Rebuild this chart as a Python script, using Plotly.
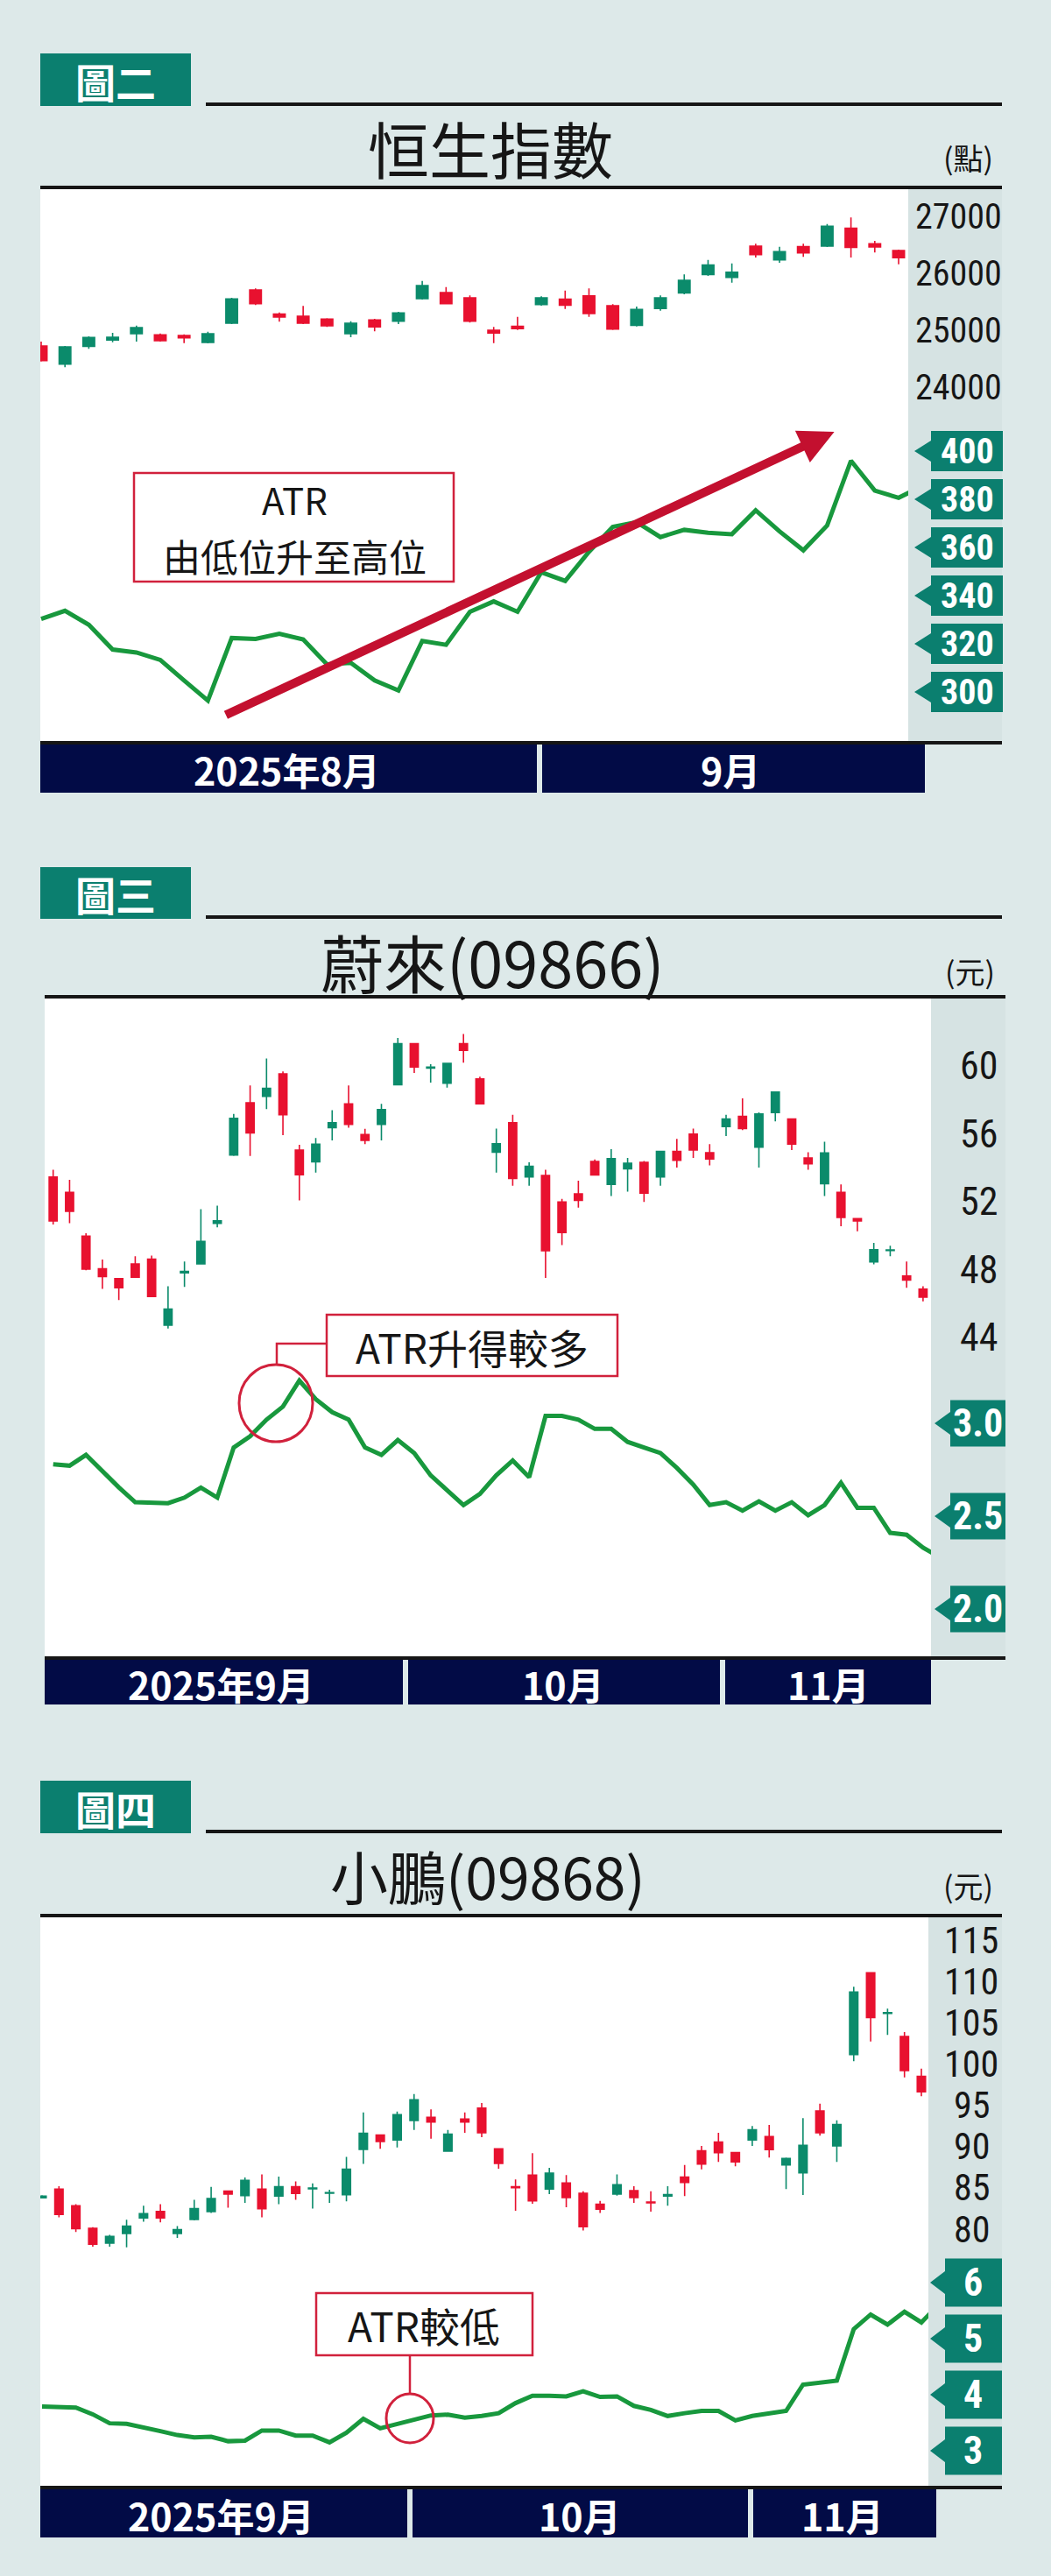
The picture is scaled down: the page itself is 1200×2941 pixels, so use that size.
import plotly.graph_objects as go

W, H = 1200, 2941

# ================= DATA =================
# 圖二 恒生指數 (daily candles, index points) and ATR
hsi_open = [24723, 24405, 24718, 24826, 24938, 24918, 24908, 24785, 25123, 25708, 25282, 25246, 25195,
            24938, 25179, 25159, 25554, 25661, 25569, 25000, 25067, 25451, 25544, 25605, 25431, 25087,
            25380, 25656, 25979, 25928, 26477, 26236, 26467, 26477, 26790, 26518, 26400]
hsi_close = [24467, 24708, 24872, 24877, 25046, 24815, 24867, 24938, 25549, 25467, 25231, 25123, 25077,
             25123, 25057, 25303, 25785, 25467, 25159, 24949, 25026, 25569, 25441, 25292, 25020, 25364,
             25569, 25877, 26144, 26020, 26328, 26379, 26359, 26826, 26456, 26462, 26272]
hsi_high = [24800, 24723, 24892, 24954, 25082, 24944, 24928, 24974, 25569, 25733, 25313, 25426, 25210,
            25159, 25200, 25323, 25867, 25759, 25610, 25057, 25236, 25595, 25697, 25733, 25456, 25415,
            25610, 25979, 26236, 26174, 26518, 26467, 26518, 26867, 26979, 26569, 26415]
hsi_low = [24451, 24349, 24672, 24790, 24800, 24800, 24774, 24769, 25108, 25441, 25149, 25108, 25057,
           24877, 24979, 25108, 25538, 25456, 25133, 24774, 25005, 25431, 25374, 25236, 25005, 25067,
           25344, 25631, 25954, 25836, 26277, 26185, 26287, 26462, 26277, 26364, 26159]
hsi_atr = [330.3, 333.7, 327.9, 317.6, 316.4, 313.3, 304.8, 296.4, 322.4, 322.0, 324.2, 321.8, 311.5,
           312.1, 304.8, 300.6, 321.2, 319.6, 333.3, 337.6, 333.3, 349.7, 346.1, 358.2, 368.5, 370.5,
           364.3, 367.3, 366.1, 365.5, 375.4, 366.7, 358.8, 369.1, 396.0, 383.6, 380.6, 385.5]
hsi_price_ticks = [27000, 26000, 25000, 24000]
hsi_atr_ticks = [400, 380, 360, 340, 320, 300]
hsi_atr_labels = ["400", "380", "360", "340", "320", "300"]
hsi_months = ["2025年8月", "9月"]

# 圖三 蔚來(09866)
nio_open = [53.47, 52.56, 49.98, 48.06, 47.47, 48.34, 48.63, 44.73, 47.82, 48.35, 50.74, 54.77, 57.85,
            58.23, 59.56, 55.06, 54.37, 56.38, 57.79, 55.98, 56.58, 58.92, 61.34, 59.90, 59.01, 61.34,
            59.26, 54.94, 56.67, 53.47, 53.56, 52.00, 52.47, 54.39, 53.04, 53.96, 54.34, 53.47, 54.98,
            56.01, 54.91, 56.45, 57.05, 55.24, 57.28, 56.90, 54.60, 53.07, 52.56, 51.02, 48.46, 49.13,
            47.63, 46.85]
nio_close = [50.88, 51.45, 48.03, 47.59, 46.94, 47.56, 46.42, 45.68, 47.90, 49.67, 50.88, 56.93, 56.07,
             58.71, 57.15, 53.61, 55.41, 56.67, 56.58, 55.63, 57.45, 61.34, 59.96, 59.96, 60.18, 60.94,
             57.79, 55.43, 53.39, 54.11, 49.12, 50.19, 52.09, 53.59, 54.56, 54.28, 52.52, 54.98, 54.46,
             55.06, 54.54, 56.90, 56.33, 57.19, 58.49, 55.41, 54.25, 54.89, 51.09, 50.88, 49.18, 49.17,
             47.39, 46.38]
nio_high = [53.90, 53.30, 50.15, 48.60, 47.47, 48.80, 48.84, 47.03, 48.49, 51.57, 51.78, 57.19, 58.87,
            60.47, 59.70, 55.37, 55.77, 57.41, 58.87, 56.32, 57.79, 61.68, 61.34, 60.13, 60.18, 61.91,
            59.39, 56.33, 57.14, 54.34, 53.90, 52.18, 53.26, 54.51, 55.11, 54.60, 54.42, 54.98, 55.72,
            56.33, 55.41, 57.14, 58.11, 57.28, 58.52, 56.90, 54.94, 55.55, 53.04, 51.02, 49.58, 49.41,
            48.49, 47.03]
nio_low = [50.67, 50.74, 47.97, 46.87, 46.21, 47.51, 46.38, 44.53, 46.99, 48.32, 50.50, 54.72, 54.72,
           57.48, 55.94, 52.09, 53.73, 55.63, 56.38, 55.41, 55.63, 58.92, 59.61, 59.04, 58.75, 60.22,
           57.79, 53.73, 52.95, 52.95, 47.51, 49.46, 51.66, 53.56, 52.35, 52.61, 52.00, 52.95, 54.03,
           54.60, 54.16, 55.89, 56.24, 54.03, 56.76, 55.06, 53.90, 52.35, 50.57, 50.27, 48.32, 48.80,
           46.94, 46.13]
nio_atr = [2.78, 2.772, 2.83, 2.74, 2.655, 2.575, 2.57, 2.57, 2.60, 2.654, 2.60, 2.87, 2.93, 3.02, 3.09,
           3.23, 3.13, 3.06, 3.02, 2.87, 2.83, 2.91, 2.84, 2.72, 2.64, 2.56, 2.62, 2.72, 2.80, 2.71,
           3.04, 3.04, 3.02, 2.97, 2.97, 2.90, 2.87, 2.84, 2.76, 2.67, 2.56, 2.575, 2.53, 2.58, 2.53,
           2.575, 2.505, 2.56, 2.68, 2.545, 2.545, 2.41, 2.40, 2.33, 2.28]
nio_price_ticks = [60, 56, 52, 48, 44]
nio_atr_ticks = [3.0, 2.5, 2.0]
nio_atr_labels = ["3.0", "2.5", "2.0"]
nio_months = ["2025年9月", "10月", "11月"]

# 圖四 小鵬(09868)
xp_open = [83.8, 84.85, 82.83, 80.11, 78.31, 79.47, 81.35, 82.13, 79.47, 81.17, 82.13, 84.60, 84.07,
           84.85, 84.00, 85.13, 84.88, 84.35, 84.18, 89.66, 91.39, 90.79, 93.15, 93.54, 89.44, 93.33,
           94.67, 89.72, 85.13, 86.54, 84.85, 85.59, 84.35, 83.01, 84.25, 84.67, 83.29, 84.00, 86.30,
           89.48, 90.54, 89.27, 90.79, 91.21, 87.78, 86.83, 94.32, 90.08, 101.14, 111.04, 106.11,
           103.33, 98.49]
xp_close = [84.0, 81.77, 80.07, 78.17, 79.12, 80.36, 81.88, 81.35, 79.93, 82.48, 83.72, 84.25, 85.91,
            82.48, 85.13, 84.32, 84.99, 84.42, 87.25, 91.60, 90.61, 93.86, 95.66, 92.98, 91.49, 92.98,
            91.67, 87.96, 85.02, 83.43, 86.79, 83.82, 80.29, 82.41, 85.38, 83.82, 83.19, 84.18, 85.66,
            87.89, 89.27, 88.14, 92.02, 89.62, 88.56, 90.15, 91.67, 92.66, 108.71, 105.63, 106.22,
            99.20, 96.62]
xp_high = [84.1, 85.20, 83.01, 80.25, 79.30, 81.14, 82.83, 83.01, 80.36, 83.54, 85.13, 84.60, 86.26,
           86.62, 86.37, 85.77, 85.55, 84.78, 88.74, 94.14, 91.49, 94.25, 96.37, 94.50, 92.02, 94.14,
           95.27, 89.72, 86.01, 89.19, 87.43, 86.54, 84.60, 83.43, 86.62, 85.20, 84.60, 85.20, 87.78,
           90.08, 91.67, 89.27, 92.48, 92.62, 88.67, 93.44, 95.20, 93.19, 109.34, 111.04, 106.69,
           103.86, 99.44]
xp_low = [83.7, 81.42, 79.65, 77.88, 77.88, 77.81, 80.89, 80.82, 78.94, 81.07, 81.95, 82.59, 83.19,
          81.42, 83.01, 83.54, 82.48, 83.19, 83.36, 87.89, 89.73, 89.90, 92.02, 90.96, 89.37, 91.67,
          91.14, 87.32, 82.23, 83.08, 84.25, 82.65, 79.83, 81.95, 84.07, 83.19, 82.13, 82.83, 84.00,
          87.25, 88.14, 87.60, 90.08, 88.67, 84.85, 84.14, 91.32, 88.14, 100.33, 102.73, 103.51,
          98.38, 96.09]
xp_atr = [3.79, 3.78, 3.77, 3.65, 3.49, 3.48, 3.42, 3.35, 3.28, 3.24, 3.25, 3.17, 3.18, 3.36, 3.36,
          3.27, 3.27, 3.15, 3.32, 3.57, 3.40, 3.47, 3.55, 3.63, 3.645, 3.59, 3.62, 3.67, 3.85, 3.98,
          3.98, 3.97, 4.06, 3.96, 3.97, 3.80, 3.73, 3.62, 3.67, 3.71, 3.71, 3.54, 3.62, 3.66, 3.71,
          4.18, 4.21, 4.25, 5.17, 5.43, 5.25, 5.48, 5.29, 5.60]
xp_price_ticks = [115, 110, 105, 100, 95, 90, 85, 80]
xp_atr_ticks = [6, 5, 4, 3]
xp_atr_labels = ["6", "5", "4", "3"]
xp_months = ["2025年9月", "10月", "11月"]

# ================= STYLE =================
PAGE_BG = "#dde9e9"
STRIP_BG = "#d6e3e3"
TEAL = "#0b7f6f"
NAVY = "#020b46"
UP = "#0b8b6b"
DOWN = "#e8112f"
ATR_C = "#18983d"
BOX_RED = "#d1213c"
ARROW_RED = "#c3102f"
INK = "#161616"
NUM_FONT = "Liberation Sans Narrow, Roboto Condensed, DejaVu Sans Condensed, Liberation Sans, sans-serif"
CJK_FONT = "Noto Sans CJK TC, Noto Sans CJK SC, sans-serif"
MIX_FONT = "Liberation Sans Narrow, Noto Sans CJK TC, sans-serif"


def fx(px):
    return px / W


def fy(py):
    return 1 - py / H


def lin_range(a, b, p_lo, p_hi):
    (va, pa), (vb, pb) = a, b
    k = (vb - va) / (pb - pa)
    return [va + (p_lo - pa) * k, va + (p_hi - pa) * k]


panels = [
    dict(tag="圖二", title="恒生指數", unit="(點)",
         o=hsi_open, h=hsi_high, l=hsi_low, c=hsi_close, atr=hsi_atr,
         pticks=hsi_price_ticks, aticks=hsi_atr_ticks, alabels=hsi_atr_labels, months=hsi_months,
         tag_box=(46, 61, 218, 121), rule=(235, 117, 1144, 121), title_xy=(560, 168), title_size=70,
         unit_xy=(1105, 180), underline=(46, 212, 1144, 216), plot=(46, 216, 1037, 846), right=1144,
         x_anchor=((0, 47), (36, 1026)), p_anchor=((27000, 247), (24000, 442)),
         a_anchor=((400, 515), (300, 790)), ptick_cx=1094, ptick_size=40,
         abox=dict(tip=1044, base=1063, right=1145, h=46, cx=1104, tri=12, size=40),
         black=(46, 846, 1144, 850), bar=(46, 850, 1056, 905), seps=[616], month_cx=[327, 834]),
    dict(tag="圖三", title="蔚來(09866)", unit="(元)",
         o=nio_open, h=nio_high, l=nio_low, c=nio_close, atr=nio_atr,
         pticks=nio_price_ticks, aticks=nio_atr_ticks, alabels=nio_atr_labels, months=nio_months,
         tag_box=(46, 990, 218, 1049), rule=(235, 1045, 1144, 1049), title_xy=(562, 1096), title_size=72,
         unit_xy=(1107, 1108), underline=(51, 1136, 1148, 1140), plot=(51, 1140, 1063, 1891), right=1148,
         x_anchor=((0, 60.7), (53, 1053.9)), p_anchor=((60, 1217.5), (44, 1527)),
         a_anchor=((3.0, 1625), (2.0, 1837)), ptick_cx=1117, ptick_size=44,
         abox=dict(tip=1067, base=1085, right=1148, h=53, cx=1116, tri=13, size=44),
         black=(51, 1891, 1148, 1895), bar=(51, 1895, 1063, 1946), seps=[463, 825],
         month_cx=[252, 643, 946]),
    dict(tag="圖四", title="小鵬(09868)", unit="(元)",
         o=xp_open, h=xp_high, l=xp_low, c=xp_close, atr=xp_atr,
         pticks=xp_price_ticks, aticks=xp_atr_ticks, alabels=xp_atr_labels, months=xp_months,
         tag_box=(46, 2033, 218, 2093), rule=(235, 2089, 1144, 2093), title_xy=(557, 2140), title_size=66,
         unit_xy=(1105, 2152), underline=(46, 2185, 1144, 2189), plot=(46, 2189, 1060, 2838), right=1144,
         x_anchor=((0, 48), (52, 1052)), p_anchor=((115, 2215), (80, 2545)),
         a_anchor=((6, 2606), (3, 2798)), ptick_cx=1109, ptick_size=42,
         abox=dict(tip=1062, base=1079, right=1144, h=55, cx=1111, tri=13, size=44),
         black=(46, 2838, 1144, 2842), bar=(46, 2842, 1069, 2897), seps=[468, 857],
         month_cx=[252, 662, 962]),
]

fig = go.Figure()
shapes = []
annotations = []
layout_axes = {}


def rect(x0, y0, x1, y1, color, layer="below", line=None):
    d = dict(type="rect", xref="paper", yref="paper", x0=fx(x0), x1=fx(x1), y0=fy(y1), y1=fy(y0),
             fillcolor=color, layer=layer, line=dict(width=0))
    if line is not None:
        d["line"] = line
    shapes.append(d)


def text(x, y, s, size, color=INK, family=CJK_FONT, xref="paper", yref="paper", yval=None):
    annotations.append(dict(x=fx(x) if xref == "paper" else x, y=fy(y) if yval is None else yval,
                            xref=xref, yref=yref, text=s, showarrow=False,
                            xanchor="center", yanchor="middle",
                            font=dict(size=size, color=color, family=family)))


for k, p in enumerate(panels, start=1):
    xid = "x" if k == 1 else f"x{k}"
    pid = "y" if k == 1 else f"y{2 * k - 1}"
    aid = f"y{2 * k}"
    xkey = "xaxis" if k == 1 else f"xaxis{k}"
    pkey = "yaxis" if k == 1 else f"yaxis{2 * k - 1}"
    akey = f"yaxis{2 * k}"

    L, T, R, B = p["plot"]
    xr = lin_range(p["x_anchor"][0], p["x_anchor"][1], L, R)
    pr = lin_range(p["p_anchor"][0], p["p_anchor"][1], B, T)
    ar = lin_range(p["a_anchor"][0], p["a_anchor"][1], B, T)

    layout_axes[xkey] = dict(domain=[fx(L), fx(R)], range=xr, anchor=pid, visible=False,
                             rangeslider=dict(visible=False), fixedrange=True)
    layout_axes[pkey] = dict(domain=[fy(B), fy(T)], range=pr, anchor=xid, visible=False, fixedrange=True)
    layout_axes[akey] = dict(range=ar, overlaying=pid, anchor=xid, visible=False, fixedrange=True)

    n = len(p["o"])
    fig.add_trace(go.Candlestick(
        x=list(range(n)), open=p["o"], high=p["h"], low=p["l"], close=p["c"],
        xaxis=xid, yaxis=pid, showlegend=False, hoverinfo="skip", whiskerwidth=0,
        increasing=dict(line=dict(color=UP, width=1.6), fillcolor=UP),
        decreasing=dict(line=dict(color=DOWN, width=1.6), fillcolor=DOWN)))
    fig.add_trace(go.Scatter(
        x=list(range(len(p["atr"]))), y=p["atr"], xaxis=xid, yaxis=aid, mode="lines",
        line=dict(color=ATR_C, width=5), showlegend=False, hoverinfo="skip"))

    # header
    tx0, ty0, tx1, ty1 = p["tag_box"]
    rect(tx0, ty0, tx1, ty1, TEAL)
    text((tx0 + tx1) / 2, (ty0 + ty1) / 2 + 1, f"<b>{p['tag']}</b>", 46, color="white")
    rect(*p["rule"], INK)
    text(p["title_xy"][0], p["title_xy"][1], p["title"], p["title_size"], family=MIX_FONT)
    text(p["unit_xy"][0], p["unit_xy"][1], p["unit"], 34)
    rect(*p["underline"], INK)

    # right strip
    rect(R, T, p["right"], B, STRIP_BG)

    # price tick labels (through the price axis)
    for v in p["pticks"]:
        text(p["ptick_cx"], 0, str(v), p["ptick_size"], family=NUM_FONT, yref=pid, yval=v)

    # ATR tick boxes (through the ATR axis)
    ab = p["abox"]
    ppu = abs(p["a_anchor"][1][1] - p["a_anchor"][0][1]) / abs(p["a_anchor"][1][0] - p["a_anchor"][0][0])
    hh = ab["h"] / 2 / ppu
    th = ab["tri"] / ppu
    for v, lab in zip(p["aticks"], p["alabels"]):
        path = (f"M {fx(ab['tip'])},{v} L {fx(ab['base'])},{v + th} L {fx(ab['base'])},{v + hh} "
                f"L {fx(ab['right'])},{v + hh} L {fx(ab['right'])},{v - hh} L {fx(ab['base'])},{v - hh} "
                f"L {fx(ab['base'])},{v - th} Z")
        shapes.append(dict(type="path", xref="paper", yref=aid, path=path, fillcolor=TEAL,
                           line=dict(width=0), layer="above"))
        text(ab["cx"], 0, f"<b>{lab}</b>", ab["size"], color="white", family=NUM_FONT, yref=aid, yval=v)

    # month bar
    rect(*p["black"], INK)
    bx0, by0, bx1, by1 = p["bar"]
    edges = [bx0] + p["seps"] + [bx1]
    for i in range(len(edges) - 1):
        a = edges[i] + (3 if i > 0 else 0)
        b = edges[i + 1] - (3 if i < len(edges) - 2 else 0)
        rect(a, by0, b, by1, NAVY)
    for cx, m in zip(p["month_cx"], p["months"]):
        text(cx, (by0 + by1) / 2 + 1, f"<b>{m}</b>", 43, color="white", family=MIX_FONT)

    # annotations specific to each panel
    if k == 1:
        rect(153, 540, 518, 664, "white", layer="above", line=dict(color=BOX_RED, width=2.5))
        text(336, 570, "ATR", 42, family=MIX_FONT)
        text(336, 634, "由低位升至高位", 43)
        annotations.append(dict(x=33.3, y=408.0, xref=xid, yref=aid, ax=7.7, ay=290.2,
                                axref=xid, ayref=aid, text="", showarrow=True, arrowhead=2,
                                arrowsize=0.8, arrowwidth=10, arrowcolor=ARROW_RED, standoff=0))
    elif k == 2:
        rect(373, 1501, 705, 1571, "white", layer="above", line=dict(color=BOX_RED, width=2.5))
        text(539, 1537, "ATR升得較多", 46, family=MIX_FONT)
        shapes.append(dict(type="path", xref="paper", yref="paper",
                           path=f"M {fx(373)},{fy(1534)} L {fx(316)},{fy(1534)} L {fx(316)},{fy(1558)}",
                           line=dict(color=BOX_RED, width=2.5), layer="above"))
        shapes.append(dict(type="circle", xref="paper", yref="paper", x0=fx(273), x1=fx(357),
                           y0=fy(1646), y1=fy(1558), line=dict(color=BOX_RED, width=3), layer="above"))
    else:
        rect(361, 2618, 608, 2689, "white", layer="above", line=dict(color=BOX_RED, width=2.5))
        text(484, 2654, "ATR較低", 46, family=MIX_FONT)
        shapes.append(dict(type="path", xref="paper", yref="paper",
                           path=f"M {fx(468)},{fy(2689)} L {fx(468)},{fy(2733)}",
                           line=dict(color=BOX_RED, width=2.5), layer="above"))
        shapes.append(dict(type="circle", xref="paper", yref="paper", x0=fx(441), x1=fx(495),
                           y0=fy(2789), y1=fy(2733), line=dict(color=BOX_RED, width=3), layer="above"))

fig.update_layout(
    width=W, height=H, autosize=False,
    margin=dict(l=0, r=0, t=0, b=0, pad=0),
    paper_bgcolor=PAGE_BG, plot_bgcolor="white",
    showlegend=False, hovermode=False,
    shapes=shapes, annotations=annotations,
    **layout_axes,
)

fig.write_html("out.html", config={"displayModeBar": False, "staticPlot": True},
               post_script="document.body.style.margin='0px';document.body.style.overflow='hidden';")
